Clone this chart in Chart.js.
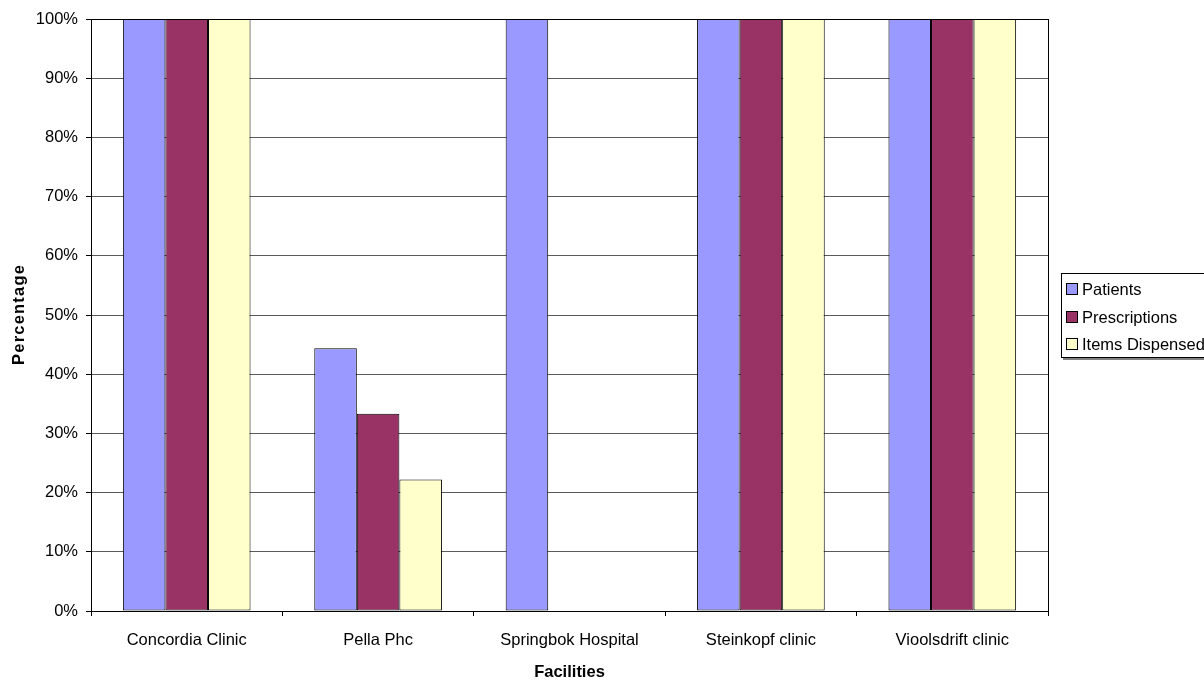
<!DOCTYPE html>
<html>
<head>
<meta charset="utf-8">
<style>
  html, body { margin: 0; padding: 0; background: #fff; overflow: hidden; }
  #wrap { position: relative; width: 1204px; height: 681px; }
</style>
<script src="https://cdn.jsdelivr.net/npm/chart.js@4/dist/chart.umd.min.js"></script>
</head>
<body>
<div id="wrap"><canvas id="c" width="1204" height="681"></canvas></div>
<script>
// Facilities and the share of each measure per facility (percent)
const facilities = ['Concordia Clinic', 'Pella Phc', 'Springbok Hospital', 'Steinkopf clinic', 'Vioolsdrift clinic'];
const patients = [100, 44.4, 100, 100, 100];
const prescriptions = [100, 33.3, 0, 100, 100];
const itemsDispensed = [100, 22.2, 0, 100, 100];
const seriesNames = ['Patients', 'Prescriptions', 'Items Dispensed'];
const seriesColors = ['#9999FF', '#993366', '#FFFFCC'];
const yTicks = [0, 10, 20, 30, 40, 50, 60, 70, 80, 90, 100];

const FONT = 'Liberation Sans, Arial, sans-serif';
const SIZE = 16.5;

// Plot frame, axis titles and a boxed legend on the right
const framePlugin = {
  id: 'frame',
  afterDatasetsDraw(chart) {
    const { ctx, chartArea: a } = chart;
    ctx.save();
    ctx.strokeStyle = '#000';
    ctx.lineWidth = 1;
    ctx.strokeRect(Math.round(a.left) + 0.5, Math.round(a.top) + 0.5,
                   Math.round(a.right - a.left), Math.round(a.bottom - a.top));
    ctx.restore();
  },
  afterDraw(chart) {
    const { ctx, chartArea: a } = chart;
    ctx.save();
    ctx.fillStyle = '#000';
    ctx.font = 'bold ' + SIZE + 'px ' + FONT;
    ctx.textAlign = 'center';
    ctx.textBaseline = 'middle';
    // x axis title
    ctx.fillText('Facilities', (a.left + a.right) / 2, 672);
    // y axis title, rotated, slightly spaced
    ctx.save();
    ctx.translate(19, (a.top + a.bottom) / 2);
    ctx.rotate(-Math.PI / 2);
    ctx.letterSpacing = '1.2px';
    ctx.fillText('Percentage', 0.6, 0);
    ctx.restore();

    // legend
    const x = 1061, y = 273, w = 170, h = 84;
    ctx.fillStyle = '#808080';
    ctx.fillRect(x + 2, y + h + 1, w, 2);
    ctx.fillStyle = '#fff';
    ctx.fillRect(x, y, w, h);
    ctx.strokeStyle = '#000';
    ctx.lineWidth = 1;
    ctx.strokeRect(x + 0.5, y + 0.5, w, h);
    ctx.font = SIZE + 'px ' + FONT;
    ctx.textAlign = 'left';
    ctx.textBaseline = 'middle';
    chart.data.datasets.forEach((ds, i) => {
      const cy = Math.round(y + 16 + i * 27.5);
      ctx.fillStyle = ds.backgroundColor;
      ctx.fillRect(x + 5.5, cy - 5.5, 11, 11);
      ctx.strokeStyle = '#000';
      ctx.strokeRect(x + 5.5, cy - 5.5, 11, 11);
      ctx.fillStyle = '#000';
      ctx.fillText(ds.label, x + 21, cy + 1);
    });
    ctx.restore();
  }
};

new Chart(document.getElementById('c'), {
  type: 'bar',
  data: {
    labels: facilities,
    datasets: [patients, prescriptions, itemsDispensed].map((vals, i) => ({
      label: seriesNames[i],
      data: vals,
      backgroundColor: seriesColors[i],
      borderColor: '#000',
      borderWidth: 1,
      borderSkipped: false,
      categoryPercentage: 0.667,
      barPercentage: 1.0
    }))
  },
  options: {
    responsive: false,
    animation: false,
    events: [],
    layout: { padding: { top: 19, right: 156, bottom: 0, left: 0 } },
    plugins: { legend: { display: false }, tooltip: { enabled: false } },
    scales: {
      x: {
        offset: true,
        afterFit(s) { s.height = 70; },
        grid: { offset: true, drawOnChartArea: false, tickLength: 5, color: '#000', tickColor: '#000' },
        border: { color: '#000', width: 1 },
        ticks: { color: '#000', font: { family: FONT, size: SIZE }, padding: 15, maxRotation: 0 }
      },
      y: {
        min: 0, max: 100,
        afterFit(s) { s.width = 91; },
        afterBuildTicks(s) { s.ticks = yTicks.map(v => ({ value: v })); },
        grid: { color: '#5a5a5a', tickColor: '#000', tickLength: 5, lineWidth: 1 },
        border: { color: '#000', width: 1 },
        ticks: { color: '#000', font: { family: FONT, size: SIZE }, padding: 8,
                 callback: v => v + '%' }
      }
    }
  },
  plugins: [framePlugin]
});
</script>
</body>
</html>
